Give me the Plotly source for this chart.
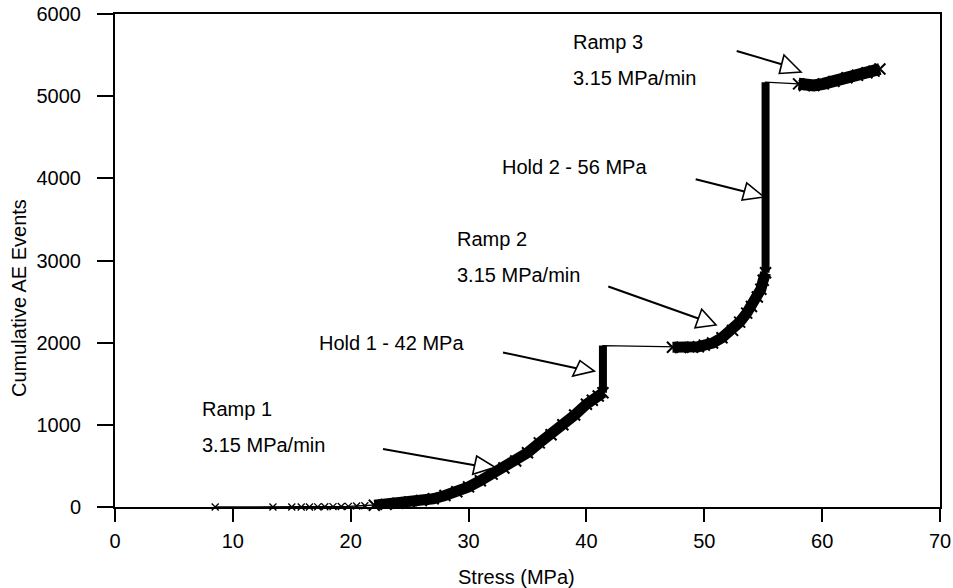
import plotly.graph_objects as go

# ---------------- data ----------------
sparse_stress = [8.5, 13.4, 15.0, 15.8, 16.5, 17.2, 17.8, 18.5, 19.2, 19.8, 20.5, 21.2]
sparse_events = [0, 0, 0, 0, 0, 2, 3, 5, 6, 8, 12, 16]

ramp1_stress = [22.0, 23, 24, 25, 26, 27, 28, 29, 30, 31, 32, 33, 34, 35, 36, 37, 38, 39, 40, 40.5, 41.0, 41.4]
ramp1_events = [22, 32, 45, 60, 80, 100, 140, 185, 245, 320, 400, 475, 560, 660, 780, 880, 1000, 1120, 1250, 1300, 1350, 1390]

hold1_stress = [41.4, 41.4]
hold1_events = [1390, 1965]

ramp2_stress = [47.3, 48.0, 49.0, 49.5, 50.0, 50.7, 51.5, 52.4, 53.0, 53.6, 54.0, 54.5, 54.8, 55.0, 55.2]
ramp2_events = [1945, 1940, 1945, 1950, 1970, 1995, 2060, 2150, 2250, 2360, 2440, 2555, 2650, 2760, 2850]

hold2_stress = [55.2, 55.2]
hold2_events = [2850, 5170]

ramp3_stress = [58.0, 58.5, 59.3, 60.1, 61.0, 62.1, 63.0, 63.8, 64.4, 64.9]
ramp3_events = [5150, 5130, 5130, 5150, 5180, 5225, 5255, 5285, 5305, 5330]

x_ticks = [0, 10, 20, 30, 40, 50, 60, 70]
y_ticks = [0, 1000, 2000, 3000, 4000, 5000, 6000]

labels = [
    ("Ramp 1", 200, 409),
    ("3.15 MPa/min", 200, 445),
    ("Hold 1 - 42 MPa", 317, 343),
    ("Ramp 2", 455, 239),
    ("3.15 MPa/min", 455, 275),
    ("Hold 2 - 56 MPa", 500, 167),
    ("Ramp 3", 571, 42),
    ("3.15 MPa/min", 571, 78),
]

# ---------------- layout geometry (pixels) ----------------
W, H = 953, 588
L, R, T, B = 115, 940, 14, 507
XMAX, YMAX = 70, 6000


def px2x(px):
    return (px - L) / (R - L) * XMAX


def px2y(py):
    return (B - py) / (B - T) * YMAX


def px2px(px):
    return (px - L) / (R - L)


def py2py(py):
    return (B - py) / (B - T)


FONT = "Arial, Liberation Sans, sans-serif"

fig = go.Figure()

all_x = sparse_stress + ramp1_stress + hold1_stress + ramp2_stress + hold2_stress + ramp3_stress
all_y = sparse_events + ramp1_events + hold1_events + ramp2_events + hold2_events + ramp3_events

# thin connecting line through all data
fig.add_trace(go.Scatter(x=all_x, y=all_y, mode="lines",
                         line=dict(color="black", width=1.3), hoverinfo="skip", showlegend=False))

# sparse early points as x markers
fig.add_trace(go.Scatter(x=sparse_stress, y=sparse_events, mode="markers",
                         marker=dict(symbol="x-thin", size=7, line=dict(color="black", width=1.3)),
                         cliponaxis=False, showlegend=False))

# dense ramp segments as thick bands of x markers
for xs, ys, w in [(ramp1_stress, ramp1_events, 11), (ramp2_stress, ramp2_events, 11),
                  (ramp3_stress, ramp3_events, 12)]:
    fig.add_trace(go.Scatter(x=xs, y=ys, mode="lines+markers",
                             line=dict(color="black", width=w),
                             marker=dict(symbol="x-thin", size=11, line=dict(color="black", width=2)),
                             cliponaxis=False, showlegend=False))

# hold segments (vertical bands)
for xs, ys in [(hold1_stress, hold1_events), (hold2_stress, hold2_events)]:
    fig.add_trace(go.Scatter(x=xs, y=ys, mode="lines",
                             line=dict(color="black", width=8),
                             cliponaxis=False, showlegend=False))

# arrows with hollow triangular heads
arrows = [
    ((383, 449), [(476.7, 456), (472.7, 474.3), (495, 467.3)]),
    ((503, 352.5), [(580, 360.7), (572.7, 376), (594.3, 371)]),
    ((608.3, 286.5), [(701.7, 309.3), (695, 327.7), (716, 325)]),
    ((695.7, 179.3), [(746.7, 183), (742, 200), (764, 197)]),
    ((736.7, 51), [(784, 55), (779.3, 73.5), (801, 72)]),
]
shapes = []
for (sx, sy), tri in arrows:
    bx = (tri[0][0] + tri[1][0]) / 2
    by = (tri[0][1] + tri[1][1]) / 2
    shapes.append(dict(type="line", xref="x", yref="y",
                       x0=px2x(sx), y0=px2y(sy), x1=px2x(bx), y1=px2y(by),
                       line=dict(color="black", width=2)))
    path = "M {} {} L {} {} L {} {} Z".format(
        px2x(tri[0][0]), px2y(tri[0][1]), px2x(tri[1][0]), px2y(tri[1][1]),
        px2x(tri[2][0]), px2y(tri[2][1]))
    shapes.append(dict(type="path", xref="x", yref="y", path=path,
                       fillcolor="white", line=dict(color="black", width=1.6)))

annotations = []
for txt, lx, cy in labels:
    annotations.append(dict(text=txt, x=px2px(lx), y=py2py(cy), xref="paper", yref="paper",
                            xanchor="left", yanchor="middle", showarrow=False, align="left",
                            font=dict(family=FONT, size=20, color="black")))

# axis titles
annotations.append(dict(text="Stress (MPa)", x=px2px(516), y=py2py(577),
                        xref="paper", yref="paper", xanchor="center", yanchor="middle",
                        showarrow=False, font=dict(family=FONT, size=20, color="black")))
annotations.append(dict(text="Cumulative AE Events", x=px2px(19), y=py2py(298),
                        xref="paper", yref="paper", xanchor="center", yanchor="middle",
                        textangle=-90, showarrow=False, font=dict(family=FONT, size=20, color="black")))

fig.update_layout(
    width=W, height=H,
    margin=dict(l=L, r=W - R, t=T, b=H - B, autoexpand=False),
    paper_bgcolor="white", plot_bgcolor="white",
    font=dict(family=FONT, size=20, color="black"),
    shapes=shapes, annotations=annotations,
    showlegend=False,
)
fig.update_xaxes(range=[0, XMAX], tickvals=x_ticks, ticks="outside", ticklen=13, tickwidth=2,
                 tickcolor="black", showline=True, linecolor="black", linewidth=2, mirror=True,
                 showgrid=False, zeroline=False, ticklabelstandoff=2, automargin=False,
                 tickfont=dict(family=FONT, size=20, color="black"))
fig.update_yaxes(range=[0, YMAX], tickvals=y_ticks, ticks="outside", ticklen=16, tickwidth=2,
                 tickcolor="black", showline=True, linecolor="black", linewidth=2, mirror=True,
                 showgrid=False, zeroline=False, ticklabelstandoff=12, automargin=False,
                 tickfont=dict(family=FONT, size=20, color="black"))

fig.write_html("out.html")
